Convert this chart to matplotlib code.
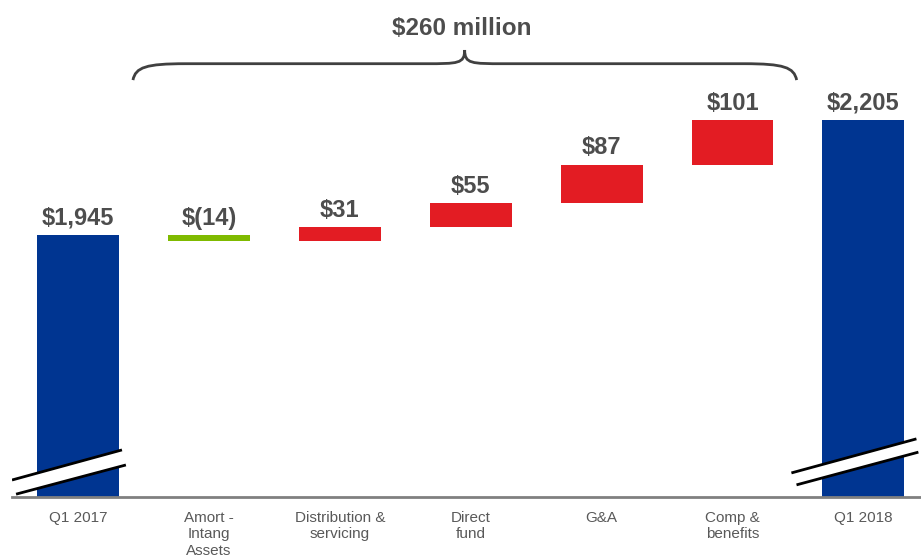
import numpy as np
import matplotlib.pyplot as plt
from matplotlib.path import Path
from matplotlib.patches import PathPatch, Polygon

plt.rcParams['font.family'] = ['Liberation Sans', 'DejaVu Sans']

# data
categories = ['Q1 2017', 'Amort -\nIntang\nAssets', 'Distribution &\nservicing',
              'Direct\nfund', 'G&A', 'Comp &\nbenefits', 'Q1 2018']
start_total = 1945
end_total = 2205
changes = [-14, 31, 55, 87, 101]
value_labels = ['$1,945', '$(14)', '$31', '$55', '$87', '$101', '$2,205']
total_change_label = '$260 million'

blue = '#003591'
red = '#e31c23'
green = '#7fba00'
text_col = '#4d4d4d'

fig = plt.figure(figsize=(9.21, 5.6), dpi=100)
ax = fig.add_axes([12 / 921, 0.1125, 909 / 921, 0.8875])

x = np.arange(len(categories))
w = 0.626

# totals
ax.bar(x[0], start_total, width=w, color=blue, zorder=2)
ax.bar(x[-1], end_total, width=w, color=blue, zorder=2)

# floating changes
level = start_total
tops = [start_total]
for i, c in enumerate(changes):
    lo, hi = min(level, level + c), max(level, level + c)
    col = green if c < 0 else red
    ax.bar(x[i + 1], hi - lo, bottom=lo, width=w, color=col, zorder=2)
    tops.append(hi)
    level += c
tops.append(end_total)

for xi, top, lab in zip(x, tops, value_labels):
    ax.text(xi, top + 12, lab, ha='center', va='bottom', fontsize=17,
            fontweight='bold', color=text_col)

# axis break marks
def axis_break(x1, y1, x2, y2, x3, y3, x4, y4):
    ax.add_patch(Polygon([(x1, y1), (x2, y2), (x4, y4), (x3, y3)],
                         closed=True, facecolor='white', edgecolor='none', zorder=3))
    ax.plot([x1, x2], [y1, y2], color='black', lw=2, zorder=4, solid_capstyle='butt')
    ax.plot([x3, x4], [y3, y4], color='black', lw=2, zorder=4, solid_capstyle='butt')

axis_break(-0.504, 1391, 0.336, 1459, -0.473, 1359, 0.366, 1425)
axis_break(5.45, 1407, 6.405, 1484, 5.489, 1380, 6.42, 1454)

# brace over the changes
xL, xR, xc = 0.42, 5.49, 2.954
yE, yM, yT = 2295, 2332, 2363
verts = [(xL, yE), (xL + 0.02, yM - 8), (xL + 0.1, yM), (xL + 0.4, yM),
         (xc - 0.3, yM),
         (xc - 0.05, yM), (xc, yM), (xc, yT),
         (xc, yM), (xc + 0.05, yM), (xc + 0.3, yM),
         (xR - 0.4, yM),
         (xR - 0.1, yM), (xR - 0.02, yM - 8), (xR, yE)]
codes = [Path.MOVETO, Path.CURVE4, Path.CURVE4, Path.CURVE4,
         Path.LINETO,
         Path.CURVE4, Path.CURVE4, Path.CURVE4,
         Path.CURVE4, Path.CURVE4, Path.CURVE4,
         Path.LINETO,
         Path.CURVE4, Path.CURVE4, Path.CURVE4]
ax.add_patch(PathPatch(Path(verts, codes), facecolor='none', edgecolor='#404040', lw=2))
ax.text(xc - 0.02, 2411, total_change_label, ha='center', va='center', fontsize=17.5,
        fontweight='bold', color=text_col)

ax.set_xlim(-0.504, 6.44)
ax.set_ylim(1352.6, 2476)
ax.set_xticks(x)
ax.set_xticklabels(categories, fontsize=11, color='#595959', linespacing=1.22)
ax.tick_params(axis='x', length=0, pad=10)
ax.set_yticks([])
for s in ['left', 'right', 'top']:
    ax.spines[s].set_visible(False)
ax.spines['bottom'].set_color('#808080')
ax.spines['bottom'].set_linewidth(2)

fig.savefig('out.png', dpi=100)
